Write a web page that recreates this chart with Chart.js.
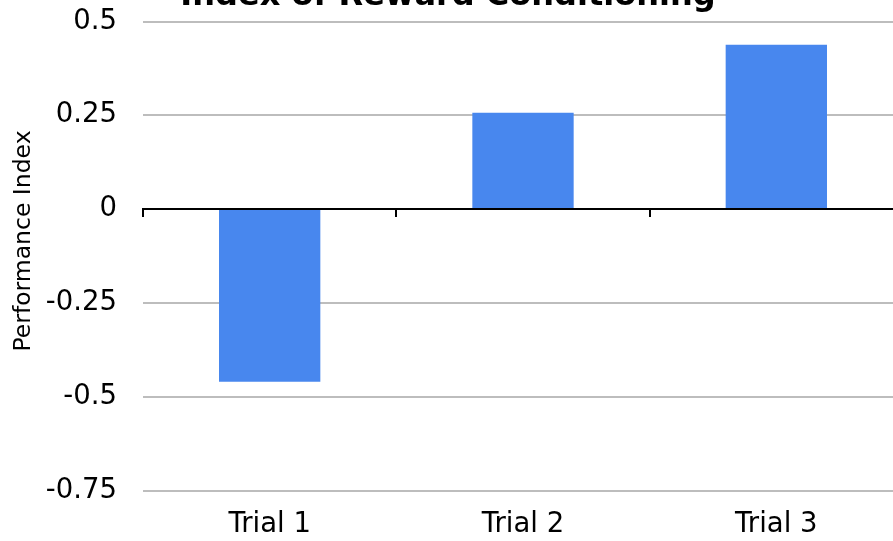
<!DOCTYPE html>
<html>
<head>
<meta charset="utf-8">
<script src="https://cdn.jsdelivr.net/npm/chart.js@4/dist/chart.umd.min.js"></script>
<style>
  html, body { margin: 0; padding: 0; background: #fff; overflow: hidden; }
  #wrap { position: relative; width: 893px; height: 541px; overflow: hidden; }
  #box { position: absolute; left: 0; top: 0; width: 903px; height: 541px; }
</style>
</head>
<body>
<div id="wrap"><div id="box"><canvas id="c"></canvas></div></div>
<script>
// Performance index per trial
const trials = ['Trial 1', 'Trial 2', 'Trial 3'];
const performanceIndex = [-0.46, 0.257, 0.438];
const yTicks = [0.5, 0.25, 0, -0.25, -0.5, -0.75];
const chartTitle = 'Index of Reward Conditioning';
const yTitle = 'Performance Index';

const FONT = '"DejaVu Sans", Verdana, sans-serif';

// Zero baseline with category boundary ticks, plus the title texts
const decorations = {
  id: 'decorations',
  afterDatasetsDraw(chart) {
    const { ctx, chartArea, scales: { x, y } } = chart;
    const y0 = y.getPixelForValue(0);
    ctx.save();
    ctx.strokeStyle = '#000';
    ctx.lineWidth = 2;
    ctx.beginPath();
    ctx.moveTo(chartArea.left, y0);
    ctx.lineTo(chartArea.right, y0);
    const half = (x.getPixelForValue(1) - x.getPixelForValue(0)) / 2;
    for (let i = 0; i < trials.length; i++) {
      const bx = Math.round(x.getPixelForValue(i) - half);
      ctx.moveTo(bx, y0 - 1);
      ctx.lineTo(bx, y0 + 8);
    }
    ctx.stroke();
    ctx.restore();
  },
  afterDraw(chart) {
    const { ctx } = chart;
    ctx.save();
    ctx.fillStyle = '#000';
    ctx.textAlign = 'center';
    ctx.textBaseline = 'alphabetic';
    ctx.font = 'bold 32px ' + FONT;
    ctx.fillText(chartTitle, 448, 4.5);
    ctx.font = '23.5px ' + FONT;
    ctx.translate(30, 241);
    ctx.rotate(-Math.PI / 2);
    ctx.fillText(yTitle, 0, 0);
    ctx.restore();
  }
};

new Chart(document.getElementById('c'), {
  type: 'bar',
  data: {
    labels: trials,
    datasets: [{
      data: performanceIndex,
      backgroundColor: '#4887ee',
      borderWidth: 0,
      barPercentage: 0.4,
      categoryPercentage: 1.0
    }]
  },
  options: {
    responsive: true,
    maintainAspectRatio: false,
    animation: false,
    layout: { padding: { top: 21.5, right: 0, left: 0, bottom: 0 } },
    plugins: {
      legend: { display: false },
      tooltip: { enabled: false },
      title: { display: false }
    },
    scales: {
      x: {
        offset: true,
        grid: { display: false, drawTicks: false },
        border: { display: false },
        ticks: {
          color: '#000',
          font: { family: FONT, size: 27.5 },
          padding: 18,
          maxRotation: 0
        },
        afterFit(scale) {
          scale.height = 50.5;
          scale.paddingLeft = 0;
          scale.paddingRight = 0;
        }
      },
      y: {
        min: -0.75,
        max: 0.5,
        afterBuildTicks(scale) { scale.ticks = yTicks.map(v => ({ value: v })); },
        grid: {
          color: '#bdbdbd',
          lineWidth: 2,
          drawTicks: false
        },
        border: { display: false },
        ticks: {
          color: '#000',
          font: { family: FONT, size: 27.5 },
          padding: 26,
          callback: (v) => String(v)
        },
        afterFit(scale) {
          scale.width = 143;
          scale.paddingTop = 0;
          scale.paddingBottom = 0;
        }
      }
    }
  },
  plugins: [decorations]
});
</script>
</body>
</html>
